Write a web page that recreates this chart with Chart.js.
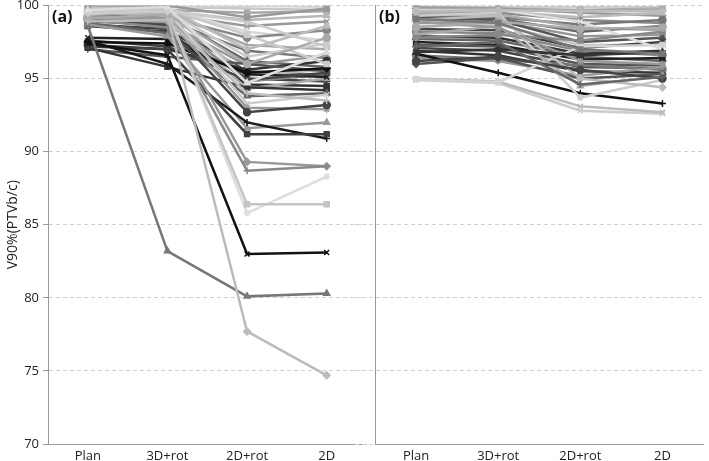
<!DOCTYPE html>
<html>
<head>
<meta charset="utf-8">
<script src="https://cdn.jsdelivr.net/npm/chart.js@4.4.0/dist/chart.umd.min.js"></script>
<style>
  html, body { margin: 0; padding: 0; background: #fff; }
  #wrap { position: relative; width: 709px; height: 461px; overflow: hidden; }
  .box { position: absolute; top: 0; height: 461px; }
  #boxA { left: 0; width: 372px; }
  #boxB { left: 355px; width: 354px; }
</style>
</head>
<body>
<div id="wrap">
  <div class="box" id="boxA"><canvas id="chartA"></canvas></div>
  <div class="box" id="boxB"><canvas id="chartB"></canvas></div>
</div>
<script>
// --- Data ---
const categories = ["Plan", "3D+rot", "2D+rot", "2D"];
const yTicks = [70, 75, 80, 85, 90, 95, 100];

// panel (a): one row per patient, values at Plan, 3D+rot, 2D+rot, 2D
const panelA = [
  [99.9, 99.9, 99.8, 99.7],
  [99.8, 99.7, 99.5, 99.6],
  [99.6, 99.6, 99.0, 99.3],
  [99.5, 99.4, 98.6, 98.9],
  [99.9, 99.8, 98.2, 97.6],
  [99.3, 99.2, 97.8, 98.3],
  [99.7, 99.5, 97.3, 97.0],
  [99.2, 99.0, 96.9, 96.4],
  [99.8, 99.6, 96.5, 97.4],
  [99.4, 99.3, 96.2, 95.8],
  [99.0, 98.8, 95.9, 96.6],
  [98.9, 98.7, 95.5, 95.2],
  [99.6, 99.5, 95.2, 95.6],
  [98.7, 98.4, 95.0, 94.8],
  [99.1, 99.0, 94.8, 95.3],
  [98.6, 98.2, 94.6, 94.5],
  [99.5, 99.3, 94.3, 95.0],
  [97.8, 97.7, 95.3, 95.1],
  [97.6, 97.2, 94.9, 95.4],
  [97.3, 97.0, 95.6, 96.2],
  [97.0, 96.5, 96.0, 95.5],
  [97.5, 97.4, 95.4, 95.7],
  [97.1, 95.8, 94.4, 94.2],
  [98.8, 98.1, 93.8, 94.0],
  [99.7, 99.6, 93.3, 93.9],
  [99.3, 99.1, 93.0, 92.9],
  [99.0, 98.6, 92.7, 93.2],
  [98.7, 97.9, 91.6, 92.0],
  [97.6, 96.0, 92.0, 90.9],
  [97.2, 97.0, 91.2, 91.2],
  [99.2, 98.9, 89.3, 89.0],
  [99.0, 98.5, 88.7, 89.0],
  [99.9, 99.6, 85.8, 88.3],
  [99.8, 99.5, 86.4, 86.4],
  [97.4, 96.6, 83.0, 83.1],
  [98.6, 83.2, 80.1, 80.3],
  [99.6, 99.3, 77.7, 74.7],
  [100.0, 99.9, 100.0, 99.9],
  [99.4, 99.7, 98.0, 96.0],
  [99.8, 99.8, 97.0, 98.6],
  [99.1, 99.4, 96.0, 97.8],
  [98.9, 99.0, 94.0, 93.5],
  [99.5, 99.6, 98.9, 97.2],
  [100.0, 100.0, 99.2, 99.8],
  [99.7, 99.9, 94.7, 96.8]
];
const colorsA = [
  "#c8c8c8", "#a8a8a8", "#b8b8b8", "#999999", "#d8d8d8", "#888888", "#aaaaaa", "#777777", "#cccccc",
  "#666666", "#999999", "#555555", "#bbbbbb", "#444444", "#888888", "#333333", "#aaaaaa", "#222222",
  "#444444", "#333333", "#555555", "#111111", "#333333", "#666666", "#cccccc", "#999999", "#444444",
  "#999999", "#1a1a1a", "#404040", "#999999", "#888888", "#dddddd", "#c4c4c4", "#111111", "#777777",
  "#bbbbbb", "#d4d4d4", "#cccccc", "#bbbbbb", "#aaaaaa", "#bbbbbb", "#cccccc", "#999999", "#dddddd"
];
const markersA = [
  "rectRot", "rect", "triangle", "crossRot", "star", "circle", "cross", "rectRot", "rect",
  "triangle", "crossRot", "star", "circle", "cross", "rectRot", "rect", "triangle", "crossRot",
  "star", "circle", "cross", "rectRot", "rect", "triangle", "crossRot", "star", "circle",
  "triangle", "cross", "rect", "rectRot", "cross", "star", "rect", "crossRot", "triangle",
  "rectRot", "crossRot", "rect", "star", "circle", "cross", "rectRot", "rect", "triangle"
];

// panel (b)
const panelB = [
  [100.0, 99.9, 99.9, 99.9],
  [99.9, 99.8, 99.7, 99.8],
  [99.8, 99.8, 99.5, 99.3],
  [99.6, 99.6, 99.2, 99.5],
  [99.4, 99.5, 99.0, 98.8],
  [99.3, 99.2, 98.7, 99.0],
  [99.5, 99.4, 98.5, 98.3],
  [99.0, 99.1, 98.2, 98.6],
  [98.8, 98.9, 97.9, 98.0],
  [99.2, 99.0, 97.5, 97.8],
  [98.6, 98.7, 97.3, 97.3],
  [98.4, 98.3, 97.1, 97.5],
  [98.2, 98.1, 96.9, 96.6],
  [97.9, 97.8, 96.7, 96.9],
  [97.7, 97.6, 96.5, 96.2],
  [97.5, 97.3, 96.3, 96.4],
  [97.3, 97.2, 96.0, 95.9],
  [97.1, 96.9, 95.8, 95.7],
  [96.9, 96.6, 95.5, 95.4],
  [96.6, 96.3, 95.9, 95.6],
  [96.4, 96.2, 95.2, 95.8],
  [96.0, 96.4, 95.0, 95.3],
  [96.7, 95.4, 94.0, 93.3],
  [94.9, 94.7, 92.8, 92.6],
  [95.0, 94.8, 93.1, 92.7],
  [94.95, 94.75, 97.2, 97.3],
  [99.3, 99.5, 93.7, 94.9],
  [99.0, 99.3, 95.0, 94.4],
  [98.0, 98.6, 94.5, 95.2],
  [99.7, 99.7, 98.9, 97.0],
  [96.2, 96.5, 95.6, 95.0],
  [97.8, 98.0, 97.6, 98.2],
  [98.9, 98.5, 96.2, 96.0],
  [96.8, 97.0, 96.6, 96.8],
  [99.6, 99.7, 99.6, 99.6],
  [98.5, 98.9, 98.4, 98.5],
  [97.2, 97.5, 94.6, 95.1],
  [99.1, 98.8, 97.0, 96.7]
];
const colorsB = [
  "#cccccc", "#aaaaaa", "#999999", "#bbbbbb", "#888888", "#777777", "#aaaaaa", "#666666", "#999999",
  "#555555", "#c4c4c4", "#444444", "#888888", "#333333", "#666666", "#222222", "#555555", "#444444",
  "#333333", "#777777", "#999999", "#555555", "#111111", "#cccccc", "#bbbbbb", "#d4d4d4", "#cccccc",
  "#bbbbbb", "#aaaaaa", "#dddddd", "#444444", "#888888", "#999999", "#333333", "#bbbbbb", "#aaaaaa",
  "#666666", "#777777"
];
const markersB = [
  "triangle", "rect", "rectRot", "crossRot", "star", "circle", "cross", "rectRot", "rect",
  "triangle", "rect", "star", "circle", "cross", "rectRot", "rect", "triangle", "crossRot",
  "star", "circle", "cross", "rectRot", "cross", "crossRot", "crossRot", "rect", "star",
  "rectRot", "triangle", "crossRot", "circle", "rect", "star", "triangle", "rectRot", "circle",
  "cross", "rect"
];

const FONT = "'Open Sans', 'DejaVu Sans', sans-serif";

// --- Helpers ---
function buildDatasets(rows, colors, markers) {
  return rows.map((vals, i) => ({
    data: vals,
    borderColor: colors[i],
    backgroundColor: colors[i],
    borderWidth: 2.5,
    pointStyle: markers[i],
    pointRadius: 3.5,
    pointBorderWidth: 1.5,
    tension: 0,
    order: rows.length - i
  }));
}

// draws "(a)" / "(b)" in the top-left corner of the plot area
const panelLabel = {
  id: "panelLabel",
  afterDraw(chart, args, opts) {
    const ctx = chart.ctx;
    ctx.save();
    ctx.font = "bold 16px " + FONT;
    ctx.fillStyle = "#111";
    ctx.textBaseline = "middle";
    ctx.fillText(opts.text, chart.chartArea.left + 4, chart.chartArea.top + 12);
    ctx.restore();
  }
};

function makeChart(id, rows, colors, markers, label, withLabels) {
  return new Chart(document.getElementById(id), {
    type: "line",
    data: { labels: categories, datasets: buildDatasets(rows, colors, markers) },
    plugins: [panelLabel],
    options: {
      animation: false,
      responsive: true,
      maintainAspectRatio: false,
      layout: { padding: { top: 4, right: withLabels ? 4 : 2, left: 0, bottom: 0 } },
      plugins: {
        legend: { display: false },
        tooltip: { enabled: false },
        panelLabel: { text: label }
      },
      scales: {
        x: {
          offset: true,
          grid: { display: false, drawTicks: false, tickLength: 0 },
          border: { color: "#999", width: 1 },
          ticks: { font: { family: FONT, size: 13 }, color: "#222", padding: 4, maxRotation: 0 },
          afterFit: (s) => { s.height = 17; }
        },
        y: {
          min: 70,
          max: 100,
          afterBuildTicks: (s) => { s.ticks = yTicks.map(v => ({ value: v })); },
          grid: {
            color: "#d0d0d0",
            tickLength: withLabels ? 5 : 20,
            tickColor: withLabels ? "#999" : "#d0d0d0",
            tickBorderDash: withLabels ? [] : [4, 3]
          },
          border: { color: "#999", width: 1, dash: [4, 3] },
          ticks: {
            display: withLabels,
            font: { family: FONT, size: 13 },
            color: "#222",
            padding: 4
          },
          title: {
            display: withLabels,
            text: "V90%(PTVb/c)",
            font: { family: FONT, size: 14 },
            color: "#222",
            padding: { top: 5, bottom: 0 }
          },
          afterFit: (s) => { s.width = withLabels ? 48 : 20; s.paddingTop = 0; s.paddingBottom = 0; }
        }
      }
    }
  });
}

// --- Charts ---
makeChart("chartA", panelA, colorsA, markersA, "(a)", true);
makeChart("chartB", panelB, colorsB, markersB, "(b)", false);
</script>
</body>
</html>
